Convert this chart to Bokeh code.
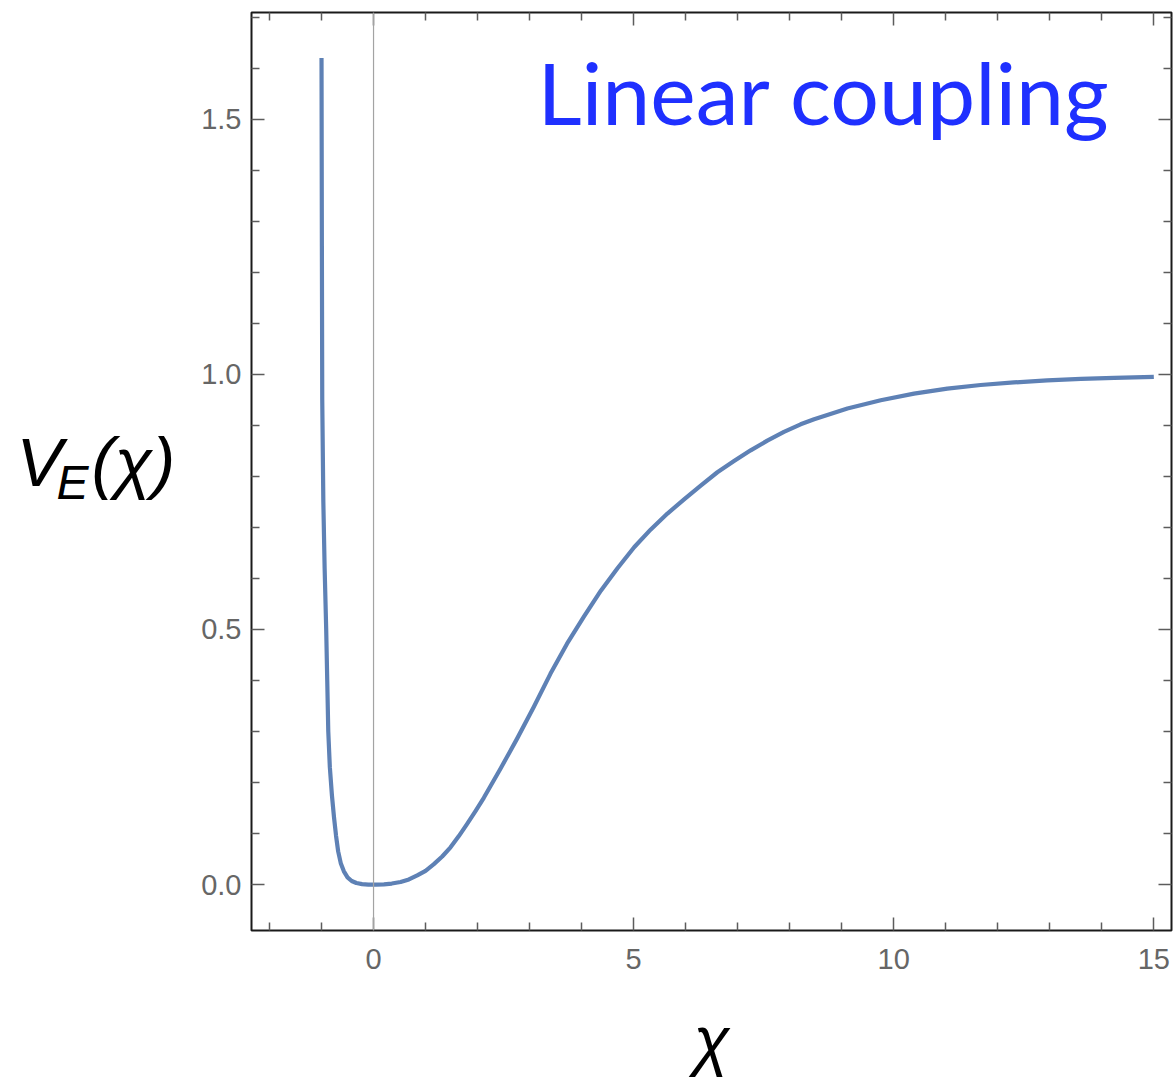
from bokeh.plotting import figure
from bokeh.layouts import row, column
from bokeh.models import Range1d, LinearAxis, FixedTicker, Span, Label
from bokeh.embed import file_html
from bokeh.resources import INLINE

# Einstein-frame potential V_E(chi), sampled along the curve
chi = [-1.000, -0.993, -0.986, -0.965, -0.94, -0.91, -0.89, -0.87, -0.84, -0.80,
       -0.76, -0.72, -0.68, -0.63, -0.57, -0.50, -0.42, -0.33, -0.22, -0.10,
       0.05, 0.20, 0.35, 0.52, 0.68, 0.84, 1.00, 1.16, 1.32, 1.48,
       1.64, 1.80, 1.96, 2.12, 2.44, 2.76, 3.08, 3.40, 3.72, 4.05,
       4.37, 4.69, 5.01, 5.33, 5.65, 5.97, 6.29, 6.61, 6.93, 7.25,
       7.57, 7.89, 8.21, 8.47, 9.11, 9.75, 10.39, 11.03, 11.67, 12.31,
       12.95, 13.60, 14.24, 15.00]
v_e = [1.62, 1.25, 0.95, 0.75, 0.62, 0.50, 0.40, 0.30, 0.23, 0.175,
       0.132, 0.095, 0.065, 0.042, 0.026, 0.014, 0.007, 0.003, 0.001, 0.0,
       0.0, 0.0005, 0.002, 0.005, 0.010, 0.018, 0.027, 0.040, 0.055, 0.073,
       0.095, 0.119, 0.144, 0.170, 0.227, 0.286, 0.348, 0.413, 0.472, 0.526,
       0.576, 0.620, 0.661, 0.696, 0.727, 0.755, 0.782, 0.808, 0.830, 0.851,
       0.870, 0.887, 0.902, 0.912, 0.933, 0.949, 0.962, 0.972, 0.979, 0.984,
       0.988, 0.991, 0.993, 0.995]

x_major = [0, 5, 10, 15]
x_minor = [-2, -1, 1, 2, 3, 4, 6, 7, 8, 9, 11, 12, 13, 14]
y_major = [0.0, 0.5, 1.0, 1.5]
y_minor = [0.1, 0.2, 0.3, 0.4, 0.6, 0.7, 0.8, 0.9, 1.1, 1.2, 1.3, 1.4, 1.6, 1.7]
x_labels = {0: "0", 5: "5", 10: "10", 15: "15"}
y_labels = {0.0: "0.0", 0.5: "0.5", 1.0: "1.0", 1.5: "1.5"}

title_text = "Linear coupling"
LINE_COLOR = "#5E81B5"
TICK_COLOR = "#5c5c5c"
LABEL_GREY = "#666666"
LAB_FONT = "Liberation Sans"

# overall page geometry
PAGE_W, PAGE_H = 1173, 1078
SIDE_W = 190          # strip holding the vertical-axis title
TOP_H = 990           # height of the row with the chart
BOTTOM_H = PAGE_H - TOP_H

p = figure(width=PAGE_W - SIDE_W, height=TOP_H,
           x_range=Range1d(-2.346, 15.34), y_range=Range1d(-0.090, 1.709),
           min_border_left=61, min_border_right=2,
           min_border_top=12, min_border_bottom=60,
           output_backend="svg", toolbar_location=None)
p.grid.visible = False
p.background_fill_color = "white"
p.border_fill_color = "white"
p.outline_line_color = "#1a1a1a"
p.outline_line_width = 2
p.outline_line_alpha = 1.0


def style_axis(ax, major, minor, labels, show_labels):
    ax.ticker = FixedTicker(ticks=major, minor_ticks=minor)
    ax.axis_line_color = None
    ax.major_tick_in = 13
    ax.major_tick_out = 0
    ax.minor_tick_in = 8
    ax.minor_tick_out = 0
    ax.major_tick_line_color = TICK_COLOR
    ax.minor_tick_line_color = TICK_COLOR
    ax.major_tick_line_width = 1.5
    ax.minor_tick_line_width = 1.5
    if show_labels:
        ax.major_label_overrides = labels
        ax.major_label_text_font = LAB_FONT
        ax.major_label_text_font_size = "29px"
        ax.major_label_text_color = LABEL_GREY
    else:
        ax.major_label_overrides = {k: "" for k in labels}
        ax.major_label_text_font_size = "0px"
        ax.major_label_standoff = 0


style_axis(p.xaxis[0], x_major, x_minor, x_labels, True)
p.xaxis[0].major_label_standoff = 18
style_axis(p.yaxis[0], y_major, y_minor, y_labels, True)
p.yaxis[0].major_label_standoff = 10

top_axis = LinearAxis()
style_axis(top_axis, x_major, x_minor, x_labels, False)
p.add_layout(top_axis, "above")
right_axis = LinearAxis()
style_axis(right_axis, y_major, y_minor, y_labels, False)
p.add_layout(right_axis, "right")

# vertical axis line through chi = 0
p.add_layout(Span(location=0, dimension="height", line_color="#a3a3a3", line_width=1.2))

p.line(chi, v_e, line_color=LINE_COLOR, line_width=4.2, line_join="round")

# headline inside the frame
p.add_layout(Label(x=14.17, y=1.555, text=title_text, text_align="right",
                   text_baseline="alphabetic", text_font="Lato",
                   text_font_size="86px", text_color="#1F30FF"))


def blank_panel(w, h):
    f = figure(width=w, height=h, x_range=Range1d(0, 1), y_range=Range1d(0, 1),
               x_axis_location=None, y_axis_location=None,
               min_border=0, output_backend="svg", toolbar_location=None)
    f.grid.visible = False
    f.outline_line_color = None
    f.background_fill_color = "white"
    f.border_fill_color = "white"
    return f


def screen_label(x, y, text, size, align="left"):
    return Label(x=x, y=y, x_units="screen", y_units="screen", text=text,
                 text_align=align, text_baseline="alphabetic", text_font=LAB_FONT,
                 text_font_style="italic", text_font_size=size, text_color="black")


# V_E(chi) title to the left of the chart
side = blank_panel(SIDE_W, TOP_H)
side.add_layout(screen_label(16, 468, "V", "69px"))
side.add_layout(screen_label(56, 448, "E", "48px"))
side.add_layout(screen_label(91, 468, "(χ)", "69px"))

# chi title under the chart
bottom = blank_panel(PAGE_W, BOTTOM_H)
bottom.add_layout(screen_label(711, 39, "χ", "66px", align="center"))

layout = column(row(side, p, spacing=0), bottom, spacing=0)

open("out.html", "w").write(file_html(layout, INLINE))
